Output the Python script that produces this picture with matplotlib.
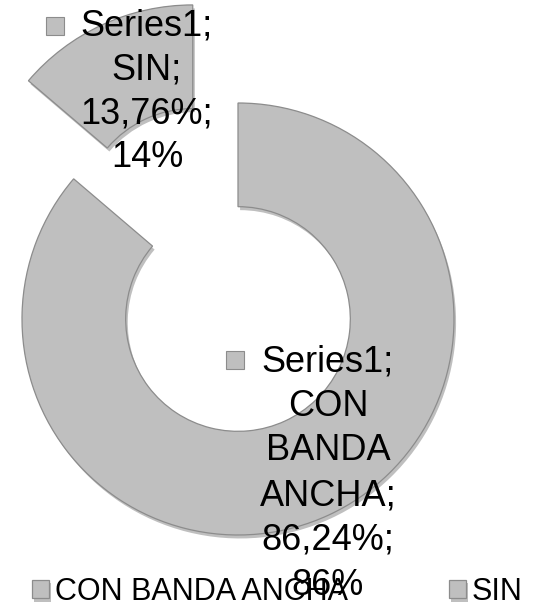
import matplotlib

matplotlib.use("Agg")
from matplotlib import patheffects
from matplotlib import pyplot as plt

plt.rcParams["font.family"] = ["Liberation Sans", "DejaVu Sans"]

SERIES = "Series1"
CATEGORIES = ["CON BANDA ANCHA", "SIN"]
SHARES = [86.24, 13.76]
EXPLODE = [0.0, 0.5]

FACE = "#bfbfbf"
EDGE = "#8c8c8c"


def label_text(cat, pct):
    cat_lines = cat.replace(" ", "\n")
    pct_s = f"{pct:.2f}".replace(".", ",")
    return f"{SERIES};\n{cat_lines};\n{pct_s}%;\n{round(pct)}%"


fig = plt.figure(figsize=(5.56, 6.10), dpi=100)
ax = fig.add_axes((0, 0, 1, 1))

# scale: 216 px per unit radius, centre of ring at (238, 319) px from top-left
scale = 216
cx, cy = 238, 319
W, H = 556, 610

wedges, _ = ax.pie(
    SHARES,
    explode=EXPLODE,
    startangle=90,
    counterclock=False,
    radius=1,
    wedgeprops=dict(width=0.48, facecolor=FACE, edgecolor=EDGE, linewidth=0.9),
)
for w in wedges:
    w.set_path_effects(
        [
            patheffects.SimplePatchShadow(offset=(1.5, -2.5), shadow_rgbFace="black", alpha=0.25),
            patheffects.Normal(),
        ]
    )

ax.set_xlim(-cx / scale, (W - cx) / scale)
ax.set_ylim(-(H - cy) / scale, cy / scale)
ax.set_aspect("auto")
ax.axis("off")


def px(x, y):
    return (x - cx) / scale, (cy - y) / scale


# data labels (text block + small legend key)
label_pos = {"SIN": (147, 9), "CON BANDA ANCHA": (328, 344)}
label_spacing = {"SIN": 1.32, "CON BANDA ANCHA": 1.36}
key_pos = {"SIN": (55, 26), "CON BANDA ANCHA": (235, 360)}
for cat, pct in zip(CATEGORIES, SHARES):
    tx, ty = px(*label_pos[cat])
    ax.text(tx, ty, label_text(cat, pct), ha="center", va="top",
            fontsize=26, linespacing=label_spacing[cat], color="black", zorder=5)
    kx, ky = px(*key_pos[cat])
    ax.plot([kx], [ky], marker="s", markersize=13, markerfacecolor=FACE,
            markeredgecolor=EDGE, markeredgewidth=0.8, zorder=5)

fig.legend(
    wedges,
    CATEGORIES,
    loc="lower left",
    bbox_to_anchor=(32 / W, 0.005),
    ncol=2,
    frameon=False,
    fontsize=22,
    handlelength=0.55,
    handleheight=0.55,
    handletextpad=0.2,
    columnspacing=3.3,
    borderpad=0,
    borderaxespad=0,
)

fig.savefig("out.png", dpi=100)
